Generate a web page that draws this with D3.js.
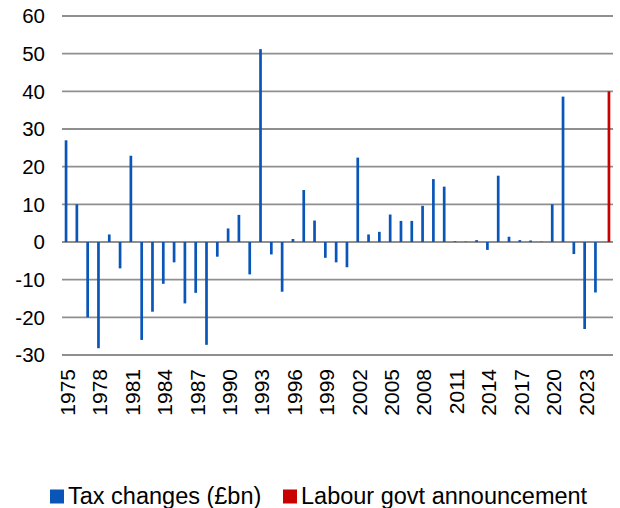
<!DOCTYPE html>
<html>
<head>
<meta charset="utf-8">
<script src="https://cdnjs.cloudflare.com/ajax/libs/d3/7.8.5/d3.min.js"></script>
<style>
  body { margin: 0; background: #fff; }
  text { font-family: "Liberation Sans", Arial, sans-serif; fill: #000; }
</style>
</head>
<body>
<div id="chart-area"></div>
<script>

var years = d3.range(1975, 2026).map(String);

var taxChanges = [27, 10, -20, -28.2, 2, -7, 22.9, -26, -18.5, -11.1,
                  -5.4, -16.3, -13.5, -27.3, -3.9, 3.6, 7.2, -8.6, 51.2, -3.3,
                  -13.2, 0.8, 13.8, 5.7, -4.2, -5.4, -6.7, 22.4, 2.0, 2.7,
                  7.3, 5.6, 5.6, 9.6, 16.7, 14.7, 0.2, 0.1, 0.5, -2.1,
                  17.6, 1.4, 0.5, 0.4, 0.1, 10, 38.6, -3.2, -23.1, -13.4,
                  null];

var labourAnnouncement = [];
years.forEach(function(y, i){ labourAnnouncement.push(null); });
labourAnnouncement[years.length - 1] = 40;

var yTicks = [-30, -20, -10, 0, 10, 20, 30, 40, 50, 60];
var xTickLabels = years.filter(function(y){ return (+y - 1975) % 3 == 0 && +y < 2025; });

var seriesNames = ['Tax changes (£bn)', 'Labour govt announcement'];
var seriesColors = ['#0a56b8', '#c80000'];

var total_width = 620;
var total_height = 508;

var svg = d3.select('#chart-area').append('svg')
            .attr("width", total_width)
            .attr("height", total_height);

var plotLeft = 62, plotRight = 613, plotTop = 16, plotBottom = 355;

var x = d3.scaleBand().domain(years).range([plotLeft, plotRight]).padding(0);
var xSub = d3.scaleBand().domain([0, 1]).range([0, x.bandwidth()])
             .paddingInner(0).paddingOuter(1);
var y = d3.scaleLinear().domain([-30, 60]).range([plotBottom, plotTop]);

// gridlines
svg.append('g').selectAll('line')
   .data(yTicks).enter().append('line')
   .attr("x1", plotLeft).attr("x2", plotRight)
   .attr("y1", (d) => y(d)).attr("y2", (d) => y(d))
   .attr("stroke", "#8f8f8f")
   .attr("stroke-width", 1.8);

// y labels
svg.append('g').selectAll('text')
   .data(yTicks).enter().append('text')
   .attr("x", 45)
   .attr("y", (d) => y(d))
   .attr("dy", "0.35em")
   .attr("text-anchor", "end")
   .attr("font-size", "20.5px")
   .text((d) => d);

// bars
var series = [taxChanges, labourAnnouncement];
series.forEach(function(vals, s){
    var rows = years.map(function(yr, i){ return {year: yr, v: vals[i]}; })
                    .filter(function(d){ return d.v !== null; });
    svg.append('g').selectAll('rect')
       .data(rows).enter().append('rect')
       .attr("x", (d) => x(d.year) + xSub(s))
       .attr("width", xSub.bandwidth())
       .attr("y", (d) => y(Math.max(0, d.v)))
       .attr("height", (d) => Math.abs(y(d.v) - y(0)))
       .attr("fill", seriesColors[s]);
});

// x labels
svg.append('g').selectAll('text')
   .data(xTickLabels).enter().append('text')
   .attr("transform", function(d){
       return "translate(" + (x(d) + x.bandwidth() / 2) + "," + 369 + ") rotate(-90)";
   })
   .attr("dy", "0.36em")
   .attr("text-anchor", "end")
   .attr("font-size", "21px")
   .text((d) => d);

// legend
var legendItems = [{x: 50, w: 14}, {x: 283, w: 14}];
legendItems.forEach(function(it, i){
    svg.append('rect')
       .attr("x", it.x).attr("y", 489.5)
       .attr("width", it.w).attr("height", 14)
       .attr("fill", seriesColors[i]);
    svg.append('text')
       .attr("x", it.x + it.w + 4)
       .attr("y", 503.5)
       .attr("font-size", "23.5px")
       .text(seriesNames[i]);
});

</script>
</body>
</html>
